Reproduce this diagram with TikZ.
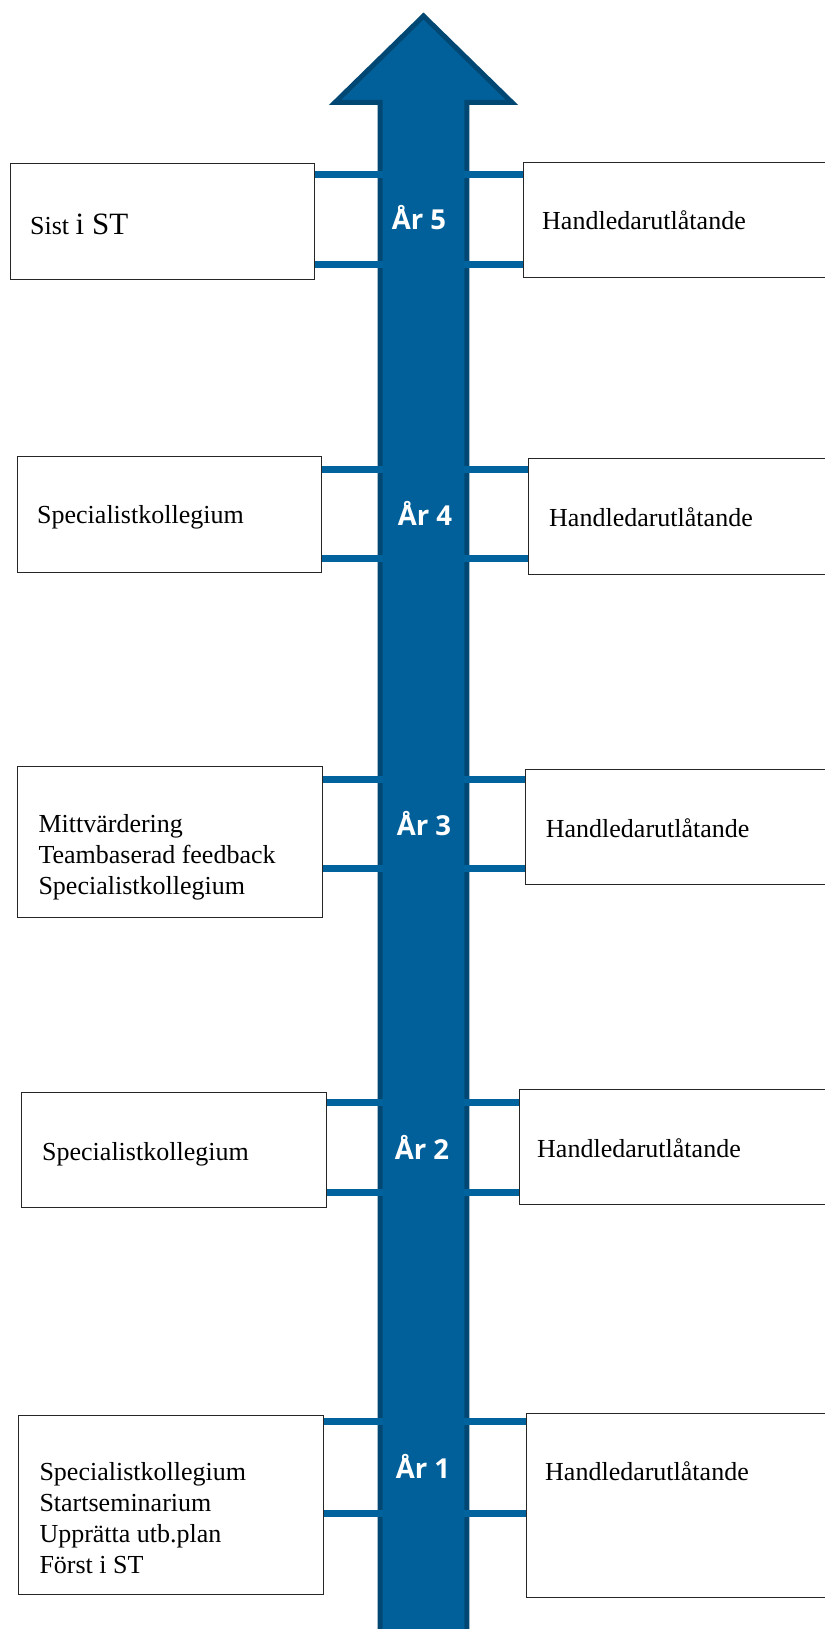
\documentclass[tikz,border=0pt]{standalone}
\usepackage{fontspec}
\setmainfont{Liberation Serif}
\newfontfamily\yearfont{Open Sans}
\usetikzlibrary{calc,positioning}
\definecolor{shaftblue}{RGB}{1,96,153}
\definecolor{shaftedge}{RGB}{0,72,115}
\definecolor{barblue}{RGB}{1,99,158}
\tikzset{
    yearbox/.style = {draw=black!85, line width=1.1pt, rectangle, fill=white,
        anchor=north west, inner sep=0pt},
    boxtext/.style = {anchor=base west, inner sep=0pt, font=\fontsize{26}{31}\selectfont},
    listtext/.style = {anchor=north west, inner sep=0pt, align=left,
        font=\fontsize{26}{31}\selectfont},
    yeartag/.style = {anchor=base, inner sep=0pt, text=white,
        font=\yearfont\bfseries\fontsize{27.5}{30}\selectfont},
    bar/.style = {draw=barblue, line width=7pt}
}

\begin{document}
\begin{tikzpicture}[x=1pt, y=-1pt]
    \useasboundingbox (0,0) rectangle (824,1629);
    % the time line
    \draw[fill=shaftblue, draw=shaftedge, line width=5pt, line join=miter]
        (380.2,1645) -- (380.2,102.5) -- (335,102.5) -- (423.5,16)
        -- (512,102.5) -- (466.8,102.5) -- (466.8,1645) -- cycle;
    \coordinate (shaftL) at (383,0);
    \coordinate (shaftR) at (464,0);
        \node[yearbox, minimum width=304pt, minimum height=116pt] (left5) at (10,163) {};
        \node[yearbox, minimum width=310pt, minimum height=115pt] (right5) at (523,162) {};
        \node[yearbox, minimum width=304pt, minimum height=116pt] (left4) at (17.3,456) {};
        \node[yearbox, minimum width=305pt, minimum height=116pt] (right4) at (528,458.3) {};
        \node[yearbox, minimum width=305pt, minimum height=151pt] (left3) at (16.7,765.5) {};
        \node[yearbox, minimum width=308pt, minimum height=115pt] (right3) at (525,769.3) {};
        \node[yearbox, minimum width=305pt, minimum height=115pt] (left2) at (21,1092.3) {};
        \node[yearbox, minimum width=314pt, minimum height=115pt] (right2) at (518.7,1089.3) {};
        \node[yearbox, minimum width=305pt, minimum height=179pt] (left1) at (18.3,1415) {};
        \node[yearbox, minimum width=307pt, minimum height=184pt] (right1) at (526,1412.5) {};
    \foreach \yr/\ya/\yb in {5/174.5/264.5, 4/469/558, 3/779.7/868.8, 2/1102.8/1192.5, 1/1421.8/1513}{
        \coordinate (up\yr) at (0,\ya);
        \coordinate (dn\yr) at (0,\yb);
        \draw[bar] (left\yr.east |- up\yr) -- (shaftL |- up\yr);
        \draw[bar] (left\yr.east |- dn\yr) -- (shaftL |- dn\yr);
        \draw[bar] (shaftR |- up\yr) -- (right\yr.west |- up\yr);
        \draw[bar] (shaftR |- dn\yr) -- (right\yr.west |- dn\yr);
    }
    \foreach \yr/\xt/\yt in {5/419/230, 4/425/525, 3/424/835, 2/422/1159, 1/423/1478}{
        \node[yeartag] (tag\yr) at (\xt,\yt) {År \yr};
    }
    \node[boxtext] (txtL5) at (30,235) {Sist {\fontsize{31}{31}\selectfont i ST}};
    \node[boxtext] (txtR5) at (542,230) {Handledarutlåtande};
    \node[boxtext] (txtL4) at (37,523) {Specialistkollegium};
    \node[boxtext] (txtR4) at (549,526) {Handledarutlåtande};
    \node[listtext] (txtL3) at (38.3,813.9) {Mittvärdering\\Teambaserad feedback\\Specialistkollegium};
    \node[boxtext] (txtR3) at (545.7,837) {Handledarutlåtande};
    \node[boxtext] (txtL2) at (42,1160) {Specialistkollegium};
    \node[boxtext] (txtR2) at (537,1157) {Handledarutlåtande};
    \node[listtext] (txtL1) at (39.3,1462.2) {Specialistkollegium\\Startseminarium\\Upprätta utb.plan\\Först i ST};
    \node[boxtext] (txtR1) at (545,1480) {Handledarutlåtande};
\end{tikzpicture}
\end{document}
